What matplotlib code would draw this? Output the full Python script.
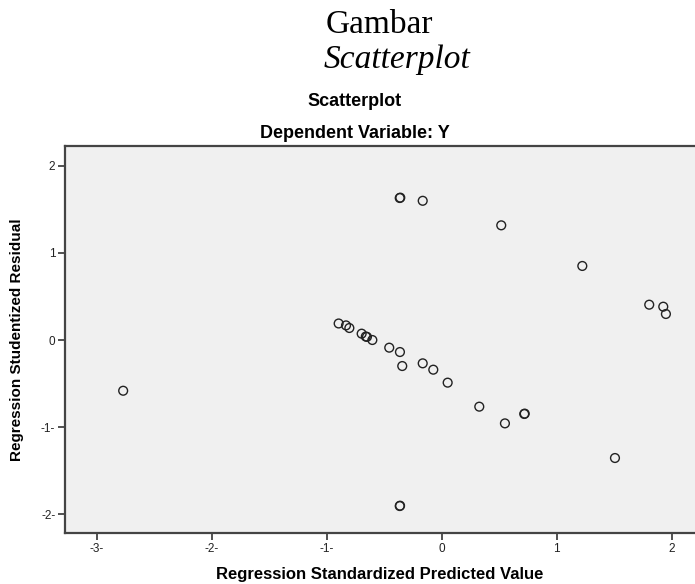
import matplotlib
matplotlib.use("Agg")
import matplotlib.pyplot as plt

# standardized predicted value (x) and studentized residual (y)
pred = [-0.365, -0.360, -0.165, 0.518,
        -0.896, -0.832, -0.803, -0.696, -0.660, -0.650, -0.603,
        -0.456, -0.363, -0.343, -0.165, -0.073, 0.052,
        0.327, 0.718, 0.722, 0.550, -0.365, -0.362,
        1.223, 1.805, 1.927, 1.950, 1.507, -2.770]
resid = [1.632, 1.636, 1.600, 1.318,
         0.190, 0.168, 0.138, 0.073, 0.040, 0.036, 0.000,
         -0.088, -0.138, -0.299, -0.268, -0.341, -0.490,
         -0.766, -0.850, -0.846, -0.958, -1.908, -1.904,
         0.851, 0.406, 0.383, 0.299, -1.356, -0.583]

xticks = [-3, -2, -1, 0, 1, 2]
xtick_labels = ["-3-", "-2-", "-1-", "0", "1", "2"]
yticks = [-2, -1, 0, 1, 2]
ytick_labels = ["-2-", "-1-", "0", "1", "2"]

sans = ["Liberation Sans", "DejaVu Sans"]
serif = ["Liberation Serif", "DejaVu Serif"]

fig = plt.figure(figsize=(6.95, 5.84), dpi=100)
ax = fig.add_axes([0.0935, 0.0873, 0.9065, 0.6632])
ax.set_facecolor("#f0f0f0")

ax.scatter(pred, resid, s=40, facecolors="none", edgecolors="#222222",
           linewidths=1.0, zorder=3)

ax.set_xlim(-3.276, 2.203)
ax.set_ylim(-2.218, 2.233)

ax.set_xticks(xticks)
ax.set_xticklabels(xtick_labels, family=sans, fontsize=8.5)
ax.set_yticks(yticks)
ax.set_yticklabels(ytick_labels, family=sans, fontsize=8.5)
ax.tick_params(direction="out", length=5, width=1.2, color="#333333",
               labelcolor="#222222", pad=2)

for side in ["left", "bottom", "top"]:
    ax.spines[side].set_color("#444444")
    ax.spines[side].set_linewidth(1.6)
ax.spines["right"].set_visible(False)

ax.set_xlabel("Regression Standardized Predicted Value", family=sans,
              fontsize=12, fontweight="bold", labelpad=9)
ax.set_ylabel("Regression Studentized Residual", family=sans,
              fontsize=11, fontweight="bold", labelpad=12)

fig.text(379 / 695, 1 - 25 / 584, "Gambar", family=serif, fontsize=24,
         ha="center", va="center")
fig.text(397 / 695, 1 - 60 / 584, "Scatterplot", family=serif, fontsize=24,
         style="italic", ha="center", va="center")
fig.text(355 / 695, 1 - 102 / 584, "Scatterplot", family=sans, fontsize=13,
         fontweight="bold", ha="center", va="center")
fig.text(355 / 695, 1 - 133 / 584, "Dependent Variable: Y", family=sans,
         fontsize=13, fontweight="bold", ha="center", va="center")

fig.savefig("out.png", dpi=100, facecolor="white")
